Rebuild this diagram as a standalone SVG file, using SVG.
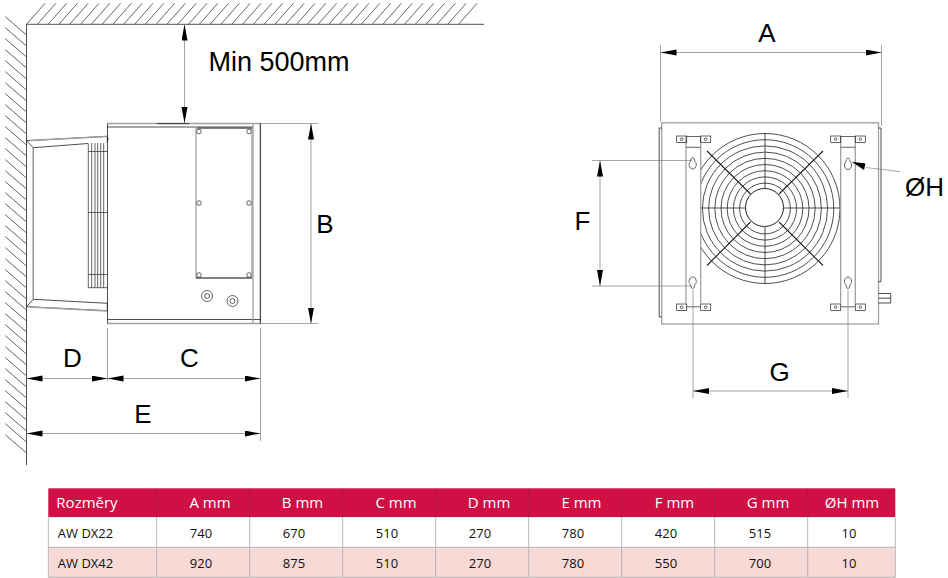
<svg xmlns="http://www.w3.org/2000/svg" width="948" height="578" viewBox="0 0 948 578">
<style>
.k{fill:none;stroke:#222;stroke-width:.8}
.g{fill:none;stroke:#a0a0a0;stroke-width:1.3}
.t{fill:none;stroke:#333;stroke-width:.75}
.e{fill:none;stroke:#808080;stroke-width:.7}
.d{fill:none;stroke:#999;stroke-width:.9;marker-start:url(#a);marker-end:url(#a)}
.l{font-family:"Liberation Sans",Arial,sans-serif;font-size:26px;fill:#000;text-anchor:middle}
.h{font-family:"Open Sans",sans-serif;font-size:15px;fill:#fff;text-anchor:middle}
.c{font-family:"Open Sans",sans-serif;font-size:13px;fill:#111;text-anchor:middle}
.hole{fill:#fff;stroke:#333;stroke-width:.75}
</style>
<defs>
<marker id="a" markerUnits="userSpaceOnUse" markerWidth="17" markerHeight="7" refX="16" refY="3" orient="auto-start-reverse"><path d="M0 0L16 3L0 6Z" fill="#000"/></marker>
<g id="tab"><rect class="t" x="0" y="0" width="10" height="6.5"/><circle class="t" cx="5" cy="3.2" r="1.3"/></g>
<g id="ku"><path class="t" d="M0 -6C-1.5 -6 -2 -3.5 -2.2 -2C-3.5 -1 -3.8 .5 -3.5 2C-3 4.5 -1.5 5.5 0 5.5C1.5 5.5 3 4.5 3.5 2C3.8 .5 3.5 -1 2.2 -2C2 -3.5 1.5 -6 0 -6Z"/></g>
<clipPath id="fc"><rect x="700.5" y="125" width="141" height="170"/></clipPath>
</defs>

<g id="walls">
<path class="t" d="M5.3 16.7l21.2 18.3M5.3 27.7l21.2 18.3M5.3 38.7l21.2 18.3M5.3 49.7l21.2 18.3M5.3 60.7l21.2 18.3M5.3 71.7l21.2 18.3M5.3 82.7l21.2 18.3M5.3 93.7l21.2 18.3M5.3 104.7l21.2 18.3M5.3 115.7l21.2 18.3M5.3 126.7l21.2 18.3M5.3 137.7l21.2 18.3M5.3 148.7l21.2 18.3M5.3 159.7l21.2 18.3M5.3 170.7l21.2 18.3M5.3 181.7l21.2 18.3M5.3 192.7l21.2 18.3M5.3 203.7l21.2 18.3M5.3 214.7l21.2 18.3M5.3 225.7l21.2 18.3M5.3 236.7l21.2 18.3M5.3 247.7l21.2 18.3M5.3 258.7l21.2 18.3M5.3 269.7l21.2 18.3M5.3 280.7l21.2 18.3M5.3 291.7l21.2 18.3M5.3 302.7l21.2 18.3M5.3 313.7l21.2 18.3M5.3 324.7l21.2 18.3M5.3 335.7l21.2 18.3M5.3 346.7l21.2 18.3M5.3 357.7l21.2 18.3M5.3 368.7l21.2 18.3M5.3 379.7l21.2 18.3M5.3 390.7l21.2 18.3M5.3 401.7l21.2 18.3M5.3 412.7l21.2 18.3M5.3 423.7l21.2 18.3M5.3 434.7l21.2 18.3"/>
<path class="t" d="M26.5 24.3l18.5 -21M37.3 24.3l18.5 -21M48.1 24.3l18.5 -21M58.9 24.3l18.5 -21M69.7 24.3l18.5 -21M80.5 24.3l18.5 -21M91.3 24.3l18.5 -21M102.1 24.3l18.5 -21M112.9 24.3l18.5 -21M123.7 24.3l18.5 -21M134.5 24.3l18.5 -21M145.3 24.3l18.5 -21M156.1 24.3l18.5 -21M166.9 24.3l18.5 -21M177.7 24.3l18.5 -21M188.5 24.3l18.5 -21M199.3 24.3l18.5 -21M210.1 24.3l18.5 -21M220.9 24.3l18.5 -21M231.7 24.3l18.5 -21M242.5 24.3l18.5 -21M253.3 24.3l18.5 -21M264.1 24.3l18.5 -21M274.9 24.3l18.5 -21M285.7 24.3l18.5 -21M296.5 24.3l18.5 -21M307.3 24.3l18.5 -21M318.1 24.3l18.5 -21M328.9 24.3l18.5 -21M339.7 24.3l18.5 -21M350.5 24.3l18.5 -21M361.3 24.3l18.5 -21M372.1 24.3l18.5 -21M382.9 24.3l18.5 -21M393.7 24.3l18.5 -21M404.5 24.3l18.5 -21M415.3 24.3l18.5 -21M426.1 24.3l18.5 -21M436.9 24.3l18.5 -21M447.7 24.3l18.5 -21M458.5 24.3l18.5 -21"/>
<path class="k" d="M484 24.3H26.5V465"/>
</g>

<g id="side-unit">
<path class="g" d="M107.5 123.5H260.5V323.5H107.5"/>
<path class="k" d="M107.5 123.5V323.5M107.5 127H253M107.5 319.5H260M260.3 123.5V323.5"/>
<path class="g" d="M253 123.5V323.5"/>
<path class="k" d="M157 123.6H189"/>
<rect class="g" x="196" y="128" width="56" height="150"/>
<path class="k" d="M196 278H252M197 128H252"/>
<circle class="hole" cx="199" cy="131.5" r="2.3"/><circle class="hole" cx="249" cy="131.5" r="2.3"/>
<circle class="hole" cx="199" cy="203" r="2.3"/><circle class="hole" cx="249" cy="203" r="2.3"/>
<circle class="hole" cx="199" cy="275" r="2.3"/><circle class="hole" cx="249" cy="275" r="2.3"/>
<circle class="t" cx="207" cy="296" r="5.5"/><circle class="t" cx="207" cy="296" r="2.5"/>
<circle class="t" cx="232.5" cy="301" r="5.5"/><circle class="t" cx="232.5" cy="301" r="2.5"/>
</g>

<g id="duct">
<path class="k" d="M26.5 140.7L107.3 136.3M33.3 147.7L88 143.5M26.5 140.7L33.3 147.7V299.3L26.5 306.7L107.3 310.7V303.3L33.3 299.3M107.3 136.3V143"/>
<path class="g" d="M30 140.5L107 136.5M33.3 148V299M30 307L107 311"/>
<path class="t" d="M88.3 143.5V287.7H107.5M91.7 143V287.7M95 143V287.7M97.7 143V287.7M100.7 143V287.7M103.7 143V287.7M88.3 151.5H107.5M88.3 212.5H107.5M88.3 274.5H107.5"/>
<path class="k" d="M107.5 139H109"/>
</g>

<g id="front-unit">
<rect class="g" x="661.7" y="122.8" width="216.8" height="201.2"/>
<path class="k" d="M661.7 128H659.2V317H661.7M878.5 128H881V281.7H878.5"/>
<path class="k" d="M878.5 293.5H890.7V303H878.5M878.5 298.2H890.7"/>
</g>

<g id="fan" clip-path="url(#fc)">
<circle class="k" cx="765" cy="208.5" r="75"/><circle class="k" cx="765" cy="208.5" r="68.8"/><circle class="k" cx="765" cy="208.5" r="62.6"/><circle class="k" cx="765" cy="208.5" r="56.4"/><circle class="k" cx="765" cy="208.5" r="50.2"/><circle class="k" cx="765" cy="208.5" r="44"/><circle class="k" cx="765" cy="208.5" r="37.8"/><circle class="k" cx="765" cy="208.5" r="31.6"/><circle class="k" cx="765" cy="208.5" r="25.4"/>
<circle class="k" cx="764.5" cy="207.5" r="19" style="fill:#fff;stroke-width:1"/>
<path class="k" d="M765 133V188.5M765 227V284M700 208H745.5M783.5 208H841"/>
<path class="k" style="stroke-width:1.1" d="M707 151L750.5 194M823 151L779 194M707 265.5L750.5 222M823 265.5L779 222"/>
</g>

<g id="brackets">
<path class="g" d="M686 142.7V303.3M700.7 142.7V303.3M840.7 142.7V303.3M855.3 142.7V303.3"/>
<path class="t" d="M686 147.3H700.7M840.7 147.3H855.3M686 136.5H700.7M840.7 136.5H855.3M686 306.8H700.7M840.7 306.8H855.3"/>
<path class="t" d="M686 136.5V143M700.7 136.5V143M840.7 136.5V143M855.3 136.5V143"/>
<use href="#tab" x="676.7" y="136"/><use href="#tab" x="700.7" y="136"/>
<use href="#tab" x="830.7" y="136"/><use href="#tab" x="855.3" y="136"/>
<use href="#tab" x="676.7" y="304"/><use href="#tab" x="700.7" y="304"/>
<use href="#tab" x="830.7" y="304"/><use href="#tab" x="855.3" y="304"/>
<use href="#ku" x="692.7" y="163.5"/><use href="#ku" x="848" y="164"/>
<use href="#ku" transform="translate(692.7 282.5) scale(1 -1)"/><use href="#ku" transform="translate(848 282.5) scale(1 -1)"/>
</g>

<g id="connectors">
<path class="d" d="M184.5 24.5V123"/>
<path class="d" d="M311 123.5V323.5"/>
<path class="e" d="M260.5 123.5H318M260.5 323.5H318"/>
<path class="e" d="M107.5 328V381M260.5 328V441"/>
<path class="d" d="M26.5 378.5H107.5"/>
<path class="d" d="M107.5 378.5H260.5"/>
<path class="d" d="M26.5 433.5H260.5"/>
<path class="e" d="M660.5 45V122M881.5 45V126"/>
<path class="d" d="M660.5 52.5H881.5"/>
<path class="e" d="M592 160.5H692M592 286H692"/>
<path class="d" d="M600 160.5V286"/>
<path class="e" d="M693 290V398M848 290V398"/>
<path class="d" d="M693 391H848"/>
<path class="e" d="M900 171.7L866 167.5"/>
<path d="M851.7 161.7L865.5 163.5L864 170Z" fill="#000"/>
</g>

<g id="labels">
<text x="279" y="71" class="l" style="font-size:27px">Min 500mm</text>
<text x="767" y="42" class="l">A</text>
<text x="325" y="233" class="l">B</text>
<text x="582.5" y="230" class="l">F</text>
<text x="779.5" y="380.5" class="l">G</text>
<text x="924.5" y="195.5" class="l">ØH</text>
<text x="72.5" y="367" class="l">D</text>
<text x="189.5" y="367" class="l">C</text>
<text x="143" y="423" class="l">E</text>
</g>

<g id="table">
<rect x="48.3" y="488.3" width="847" height="29" fill="#d01045"/>
<rect x="48.3" y="517.3" width="847" height="30" fill="#fff"/>
<rect x="48.3" y="547.3" width="847" height="30" fill="#f7d9d5"/>
<path fill="none" stroke="#a02048" stroke-width=".8" d="M156.7 488.3V517.3M249.7 488.3V517.3M342.7 488.3V517.3M435.7 488.3V517.3M528.7 488.3V517.3M621.7 488.3V517.3M714.7 488.3V517.3M807.7 488.3V517.3"/>
<path fill="none" stroke="#b5aeae" stroke-width=".9" d="M48.3 517.3V577.3H895.3V517.3M48.3 547.3H895.3M156.7 517.3V577.3M249.7 517.3V577.3M342.7 517.3V577.3M435.7 517.3V577.3M528.7 517.3V577.3M621.7 517.3V577.3M714.7 517.3V577.3M807.7 517.3V577.3"/>
<text x="87" y="508" class="h">Rozměry</text><text x="210" y="508" class="h">A mm</text><text x="302.5" y="508" class="h">B mm</text><text x="396" y="508" class="h">C mm</text><text x="489" y="508" class="h">D mm</text><text x="581.5" y="508" class="h">E mm</text><text x="674.5" y="508" class="h">F mm</text><text x="768" y="508" class="h">G mm</text><text x="852" y="508" class="h">ØH mm</text>
<text x="85.5" y="538" class="c">AW DX22</text><text x="201" y="538" class="c">740</text><text x="294" y="538" class="c">670</text><text x="387" y="538" class="c">510</text><text x="480" y="538" class="c">270</text><text x="573" y="538" class="c">780</text><text x="666" y="538" class="c">420</text><text x="760" y="538" class="c">515</text><text x="849" y="538" class="c">10</text>
<text x="85.5" y="568" class="c">AW DX42</text><text x="201" y="568" class="c">920</text><text x="294" y="568" class="c">875</text><text x="387" y="568" class="c">510</text><text x="480" y="568" class="c">270</text><text x="573" y="568" class="c">780</text><text x="666" y="568" class="c">550</text><text x="760" y="568" class="c">700</text><text x="849" y="568" class="c">10</text>
</g>
</svg>
